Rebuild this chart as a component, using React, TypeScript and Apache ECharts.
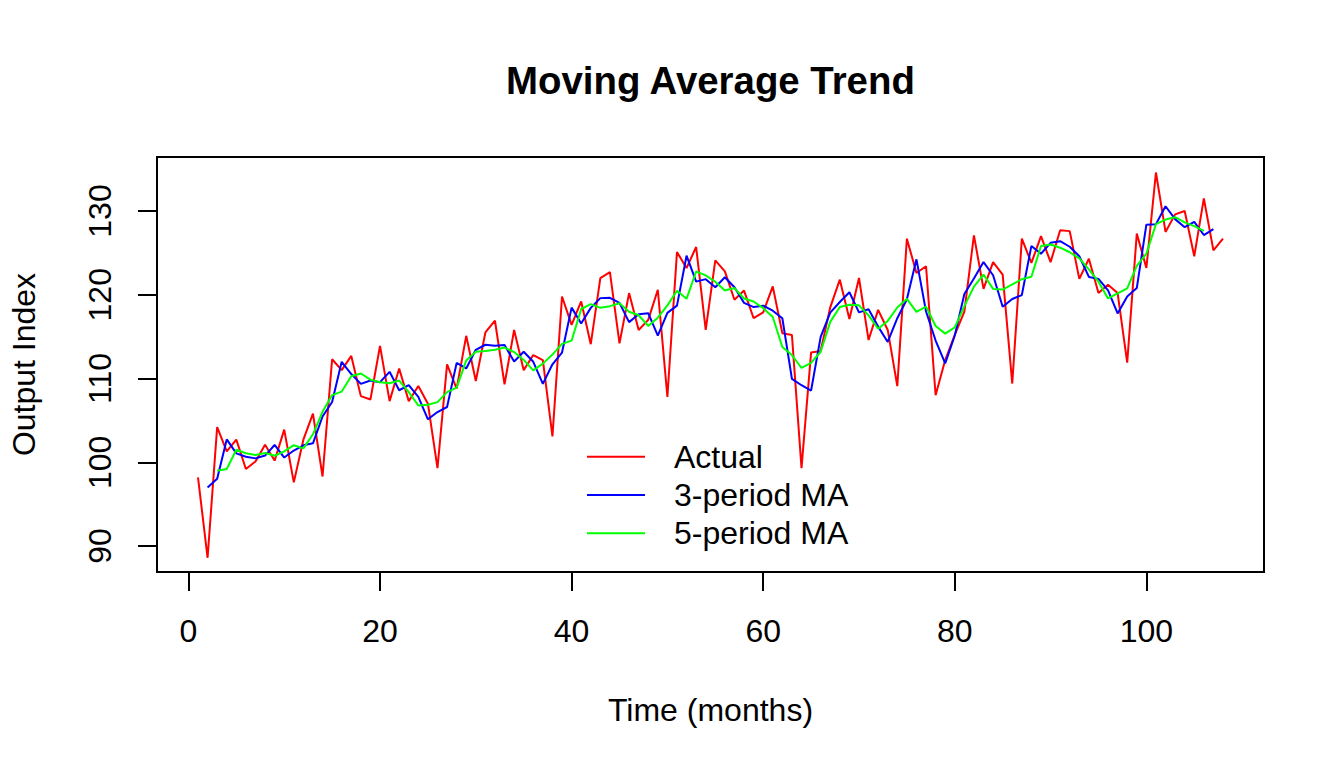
import React, { useEffect, useRef } from "react";
import * as echarts from "echarts";

// Actual output index, months 1..108
const actual: number[] = [
  98.2, 88.6, 104.2, 101.3, 102.7, 99.2, 100.1, 102.1, 100.2, 103.9,
  97.6, 102.7, 105.8, 98.3, 112.3, 111.0, 112.7, 107.9, 107.5, 113.9,
  107.3, 111.2, 107.3, 109.1, 107.0, 99.3, 111.7, 108.8, 115.1, 109.7,
  115.5, 116.9, 109.3, 115.8, 111.0, 112.8, 112.2, 103.1, 119.8, 116.4,
  119.2, 114.1, 122.0, 122.7, 114.2, 120.2, 115.8, 117.0, 120.6, 107.8,
  125.1, 123.2, 125.7, 115.8, 124.1, 122.8, 119.4, 120.5, 117.2, 117.9,
  121.0, 115.4, 115.2, 99.3, 113.1, 113.3, 118.5, 121.8, 117.1, 122.0,
  114.6, 118.2, 115.8, 109.1, 126.7, 122.6, 123.4, 108.0, 112.2, 115.2,
  118.0, 127.1, 120.7, 123.9, 122.4, 109.4, 126.7, 123.8, 127.0, 123.9,
  127.7, 127.6, 121.9, 124.3, 120.2, 121.2, 120.2, 111.9, 127.3, 123.2,
  134.6, 127.5, 129.6, 130.0, 124.6, 131.5, 125.3, 126.7,
];

const seriesNames = ["Actual", "3-period MA", "5-period MA"];
const seriesColors = ["#FF0000", "#0000FF", "#00FF00"];
const xTicks = [0, 20, 40, 60, 80, 100];
const yTicks = [90, 100, 110, 120, 130];

// Centered moving average (as stats::filter with sides = 2)
function centeredMA(values: number[], k: number): [number, number][] {
  const half = Math.floor(k / 2);
  const out: [number, number][] = [];
  for (let i = half; i < values.length - half; i++) {
    let s = 0;
    for (let j = i - half; j <= i + half; j++) s += values[j];
    out.push([i + 1, s / k]);
  }
  return out;
}

const actualPoints: [number, number][] = actual.map((v, i) => [i + 1, v]);
const ma3 = centeredMA(actual, 3);
const ma5 = centeredMA(actual, 5);

const FONT = '"Liberation Sans", Arial, Helvetica, sans-serif';

export default function App() {
  const ref = useRef<HTMLDivElement>(null);
  useEffect(() => {
    if (!ref.current) return;
    const chart = echarts.init(ref.current, null, { renderer: "svg" });
    chart.setOption({
      animation: false,
      backgroundColor: "#ffffff",
      textStyle: { fontFamily: FONT },
      title: {
        text: "Moving Average Trend",
        left: 506,
        top: 61,
        padding: 0,
        textStyle: {
          fontFamily: FONT,
          fontSize: 38.4,
          fontWeight: "bold",
          lineHeight: 38.4,
          color: "#000",
        },
      },
      legend: {
        data: seriesNames,
        orient: "vertical",
        left: 587,
        top: 440.7,
        padding: 0,
        itemWidth: 58,
        itemHeight: 2,
        itemGap: 6.3,
        icon: "rect",
        textStyle: {
          fontFamily: FONT,
          fontSize: 32,
          lineHeight: 32,
          color: "#000",
          padding: [0, 0, 0, 24],
        },
      },
      grid: {
        left: 157,
        right: 80,
        top: 157,
        bottom: 196,
        show: true,
        borderColor: "#000",
        borderWidth: 2,
        backgroundColor: "transparent",
      },
      xAxis: {
        type: "value",
        min: -3.28,
        max: 112.28,
        name: "Time (months)",
        nameLocation: "middle",
        nameGap: 122,
        nameTextStyle: { fontFamily: FONT, fontSize: 32, lineHeight: 32, color: "#000" },
        axisLine: { show: false, onZero: false },
        splitLine: { show: false },
        axisTick: {
          show: true,
          inside: false,
          length: 19,
          customValues: xTicks,
          lineStyle: { color: "#000", width: 2 },
        },
        axisLabel: {
          customValues: xTicks,
          margin: 43,
          fontFamily: FONT,
          fontSize: 32,
          lineHeight: 32,
          color: "#000",
        },
      },
      yAxis: {
        type: "value",
        min: 86.9,
        max: 136.45,
        name: "Output Index",
        nameLocation: "middle",
        nameGap: 117,
        nameTextStyle: { fontFamily: FONT, fontSize: 32, lineHeight: 32, color: "#000" },
        axisLine: { show: false, onZero: false },
        splitLine: { show: false },
        axisTick: {
          show: true,
          inside: false,
          length: 19,
          customValues: yTicks,
          lineStyle: { color: "#000", width: 2 },
        },
        axisLabel: {
          customValues: yTicks,
          rotate: 90,
          margin: 41,
          fontFamily: FONT,
          fontSize: 32,
          lineHeight: 32,
          color: "#000",
        },
      },
      series: [
        {
          name: seriesNames[0],
          type: "line",
          data: actualPoints,
          showSymbol: false,
          symbol: "none",
          color: seriesColors[0],
          lineStyle: { color: seriesColors[0], width: 2 },
          z: 2,
        },
        {
          name: seriesNames[1],
          type: "line",
          data: ma3,
          showSymbol: false,
          symbol: "none",
          color: seriesColors[1],
          lineStyle: { color: seriesColors[1], width: 2 },
          z: 3,
        },
        {
          name: seriesNames[2],
          type: "line",
          data: ma5,
          showSymbol: false,
          symbol: "none",
          color: seriesColors[2],
          lineStyle: { color: seriesColors[2], width: 2 },
          z: 4,
        },
      ],
    });
    return () => chart.dispose();
  }, []);
  return (
    <div
      ref={ref}
      style={{ position: "fixed", left: 0, top: 0, width: 1344, height: 768 }}
    />
  );
}
